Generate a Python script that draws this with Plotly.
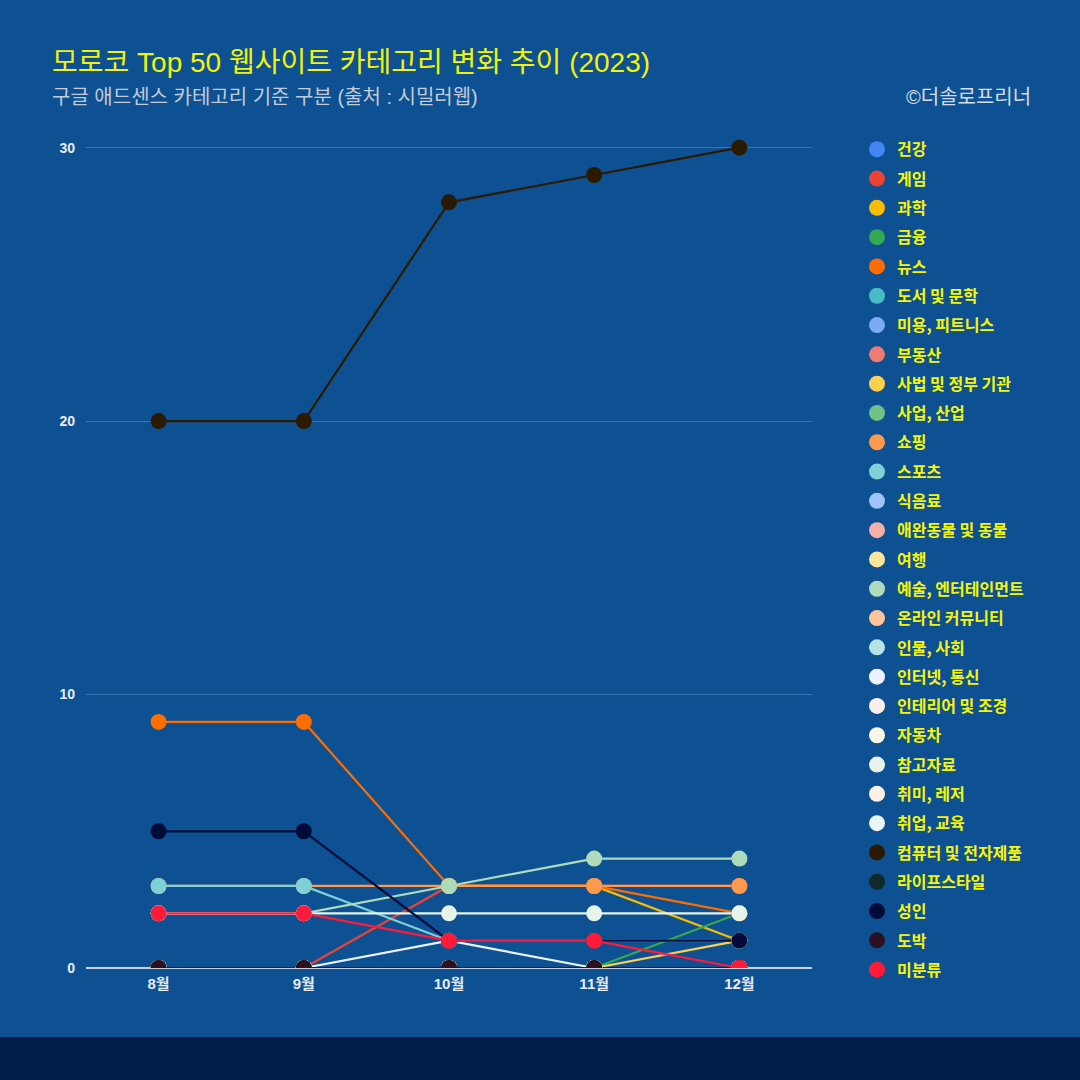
import plotly.graph_objects as go

months = ["8월", "9월", "10월", "11월", "12월"]

categories = [
    "건강", "게임", "과학", "금융", "뉴스", "도서 및 문학", "미용, 피트니스", "부동산",
    "사법 및 정부 기관", "사업, 산업", "쇼핑", "스포츠", "식음료", "애완동물 및 동물", "여행",
    "예술, 엔터테인먼트", "온라인 커뮤니티", "인물, 사회", "인터넷, 통신", "인테리어 및 조경",
    "자동차", "참고자료", "취미, 레저", "취업, 교육", "컴퓨터 및 전자제품", "라이프스타일",
    "성인", "도박", "미분류",
]

colors = [
    "#4285f4", "#ea4335", "#fbbc04", "#34a853", "#ff6d01", "#46bdc6", "#7baaf7", "#f07b72",
    "#fcd04f", "#71c287", "#ff994d", "#7ed1d7", "#a1c2fa", "#f6aea9", "#fde49b",
    "#aedcba", "#ffc599", "#b5e3e6", "#ecf3fe", "#fdeeee",
    "#fff8e6", "#e6f4ea", "#fff0e6", "#e8f6f8", "#2b1a00", "#0e2a2a",
    "#000b3a", "#2a1020", "#ff1a3a",
]

values = {
    "건강": [0, 0, 0, 0, 0],
    "게임": [0, 0, 3, 3, 3],
    "과학": [None, None, 3, 3, 1],
    "금융": [0, 0, 0, 0, 2],
    "뉴스": [9, 9, 3, 3, 2],
    "도서 및 문학": [0, 0, 0, 0, 0],
    "미용, 피트니스": [0, 0, 0, 0, 0],
    "부동산": [0, 0, 0, 0, 0],
    "사법 및 정부 기관": [0, 0, 0, 0, 1],
    "사업, 산업": [0, 0, 0, 0, 0],
    "쇼핑": [3, 3, 3, 3, 3],
    "스포츠": [3, 3, 1, 1, 1],
    "식음료": [0, 0, 0, 0, 0],
    "애완동물 및 동물": [0, 0, 0, 0, 0],
    "여행": [0, 0, 0, 0, 0],
    "예술, 엔터테인먼트": [2, 2, 3, 4, 4],
    "온라인 커뮤니티": [0, 0, 0, 0, 0],
    "인물, 사회": [0, 0, 0, 0, 0],
    "인터넷, 통신": [0, 0, 1, 0, 0],
    "인테리어 및 조경": [0, 0, 0, 0, 0],
    "자동차": [0, 0, 0, 0, 0],
    "참고자료": [2, 2, 2, 2, 2],
    "취미, 레저": [0, 0, 0, 0, 0],
    "취업, 교육": [0, 0, 0, 0, 0],
    "컴퓨터 및 전자제품": [20, 20, 28, 29, 30],
    "라이프스타일": [0, 0, 0, 0, 0],
    "성인": [5, 5, 1, 1, 1],
    "도박": [0, 0, 0, 0, 0],
    "미분류": [2, 2, 1, 1, 0],
}

y_ticks = [0, 10, 20, 30]

BG = "#0d5192"
FONT = "Liberation Sans, Noto Sans CJK KR, sans-serif"

fig = go.Figure()

# lines first, then markers on top (like the original chart)
for name, color in zip(categories, colors):
    fig.add_trace(go.Scatter(
        x=months, y=values[name], mode="lines", name=name,
        line=dict(color=color, width=2.2), showlegend=False,
        legendgroup=name, hoverinfo="skip",
    ))
for name, color in zip(categories, colors):
    fig.add_trace(go.Scatter(
        x=months, y=values[name], mode="markers", name=name,
        marker=dict(color=color, size=16), legendgroup=name,
    ))

# footer band
fig.add_shape(type="rect", xref="paper", yref="paper", x0=-0.2, x1=1.5,
              y0=-0.5, y1=-0.0827, fillcolor="#001c48", line_width=0, layer="below")

fig.add_annotation(text="모로코 Top 50 웹사이트 카테고리 변화 추이 (2023)",
                   xref="paper", yref="paper", x=-0.0496, y=1.086,
                   xanchor="left", yanchor="middle", showarrow=False,
                   font=dict(family=FONT, size=28, color="#f2f20a"))
fig.add_annotation(text="구글 애드센스 카테고리 기준 구분 (출처 : 시밀러웹)",
                   xref="paper", yref="paper", x=-0.0496, y=1.0445,
                   xanchor="left", yanchor="middle", showarrow=False,
                   font=dict(family=FONT, size=20, color="#c3cbd9"))
fig.add_annotation(text="©더솔로프리너",
                   xref="paper", yref="paper", x=1.3044, y=1.0445,
                   xanchor="right", yanchor="middle", showarrow=False,
                   font=dict(family=FONT, size=20, color="#d6dce6"))

fig.update_layout(
    width=1080, height=1080,
    margin=dict(l=86, r=268, t=134, b=112),
    paper_bgcolor=BG, plot_bgcolor=BG,
    font=dict(family=FONT, color="#ffffff"),
    xaxis=dict(type="category", range=[-0.5, 4.5], showgrid=False, zeroline=False,
               showline=False, ticks="", ticklabelstandoff=5,
               tickfont=dict(size=15, color="#e8ecf4", weight="bold")),
    yaxis=dict(range=[0, 30.5], tickvals=y_ticks, showgrid=True, gridcolor="#3574b0",
               gridwidth=1, zeroline=True, zerolinecolor="#c8d2e2", zerolinewidth=1.5,
               ticks="", ticklabelstandoff=10,
               tickfont=dict(size=14, color="#e8ecf4", weight="bold")),
    legend=dict(x=1.062, y=1.002, xanchor="left", yanchor="top", maxheight=1000,
                bgcolor="rgba(0,0,0,0)", tracegroupgap=5.5, traceorder="grouped",
                font=dict(family="Noto Sans CJK KR", size=16, color="#f5f50a", weight="bold")),
    showlegend=True,
)

fig.write_html("out.html", config={"displayModeBar": False},
               post_script="document.body.style.margin='0';")
